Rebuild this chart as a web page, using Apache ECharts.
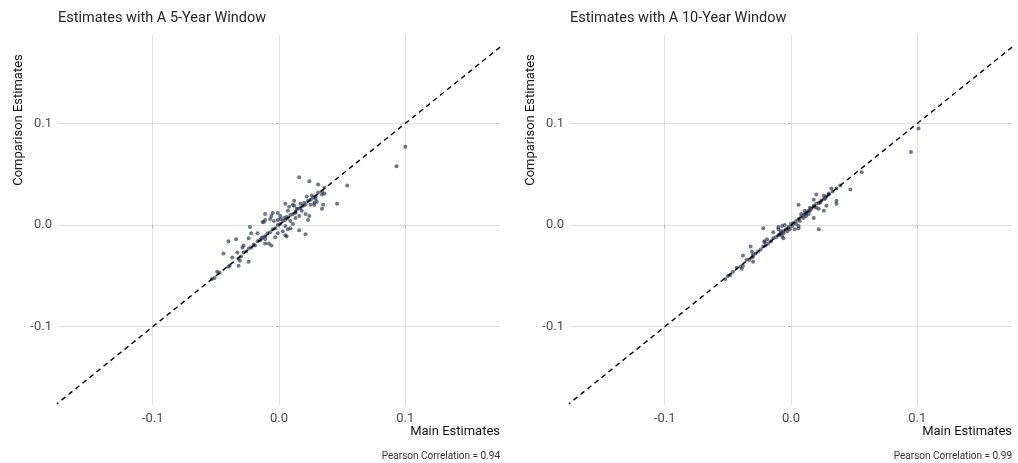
<!DOCTYPE html>
<html>
<head>
<meta charset="utf-8">
<script src="https://cdn.jsdelivr.net/npm/echarts@6/dist/echarts.min.js"></script>
<style>
  html, body { margin: 0; padding: 0; background: #ffffff; }
  #chart { width: 1018px; height: 463px; }
</style>
</head>
<body>
<div id="chart"></div>
<script>
// Panel texts
const panelTitles = ['Estimates with A 5-Year Window', 'Estimates with A 10-Year Window'];
const xAxisTitle = 'Main Estimates';
const yAxisTitle = 'Comparison Estimates';
const correlationNotes = ['Pearson Correlation = 0.94', 'Pearson Correlation = 0.99'];

// Axis breaks
const tickValues = [-0.1, 0, 0.1];
const tickLabels = ['-0.1', '0.0', '0.1'];

// 5-year window: main estimate (x) vs comparison estimate (y)
const main5 = [
  0.100, 0.093, 0.054, 0.016, 0.024, 0.031, 0.036, 0.046, 0.035, 0.034,
  0.028, 0.005, 0.007, -0.005, -0.012, -0.023, -0.022, 0.016, 0.021, 0.023,
  -0.040, -0.034, -0.024, -0.029, -0.044, -0.033, -0.037, -0.032, -0.032, -0.024,
  -0.040, -0.049, -0.053, -0.003, 0.005, -0.011, -0.013, -0.011, -0.007, -0.004,
  -0.001, 0.001, 0.004, 0.006, 0.009, 0.012, 0.014, 0.018, 0.021, 0.016,
  0.013, 0.011, 0.009, 0.007, 0.005, 0.003, -0.001, 0.022, 0.026, 0.028,
  0.025, 0.020, 0.017, 0.013, 0.024, -0.011, -0.006, -0.028, -0.031, -0.039,
  -0.047, -0.051, -0.006, 0.029, 0.030, 0.034, 0.008, 0.011, 0.012, -0.001,
  0.001, 0.006, -0.008, -0.011, -0.014, -0.017,
  -0.030, -0.028, -0.026, -0.024, -0.022, -0.020, -0.019, -0.017, -0.015, -0.013,
  -0.011, -0.009, -0.007, -0.005, -0.003, -0.001, 0.001, 0.003, 0.005, 0.007,
  0.009, 0.011, 0.013, 0.015, 0.017, 0.019, 0.021, 0.023, 0.025, 0.027,
  0.029, 0.031, 0.034, 0.036
];
const comp5 = [
  0.077, 0.058, 0.039, 0.047, 0.043, 0.040, 0.031, 0.021, 0.020, 0.016,
  0.020, 0.021, 0.014, 0.012, 0.003, -0.002, -0.008, -0.005, -0.009, 0.005,
  -0.016, -0.014, -0.013, -0.022, -0.028, -0.027, -0.032, -0.033, -0.040, -0.036,
  -0.041, -0.046, -0.053, -0.012, -0.010, -0.018, 0.003, 0.005, 0.006, 0.004,
  0.005, 0.006, 0.007, 0.008, 0.004, 0.019, 0.016, 0.014, 0.011, 0.009,
  0.007, 0.001, -0.003, -0.004, -0.001, -0.006, -0.008, 0.028, 0.029, 0.022,
  0.020, 0.022, 0.021, 0.012, 0.009, 0.011, 0.009, -0.020, -0.035, -0.040,
  -0.047, -0.052, -0.020, 0.026, 0.023, 0.030, 0.018, 0.020, 0.024, 0.012,
  0.009, -0.011, -0.018, -0.014, -0.013, -0.008,
  -0.031, -0.027, -0.026, -0.023, -0.022, -0.019, -0.020, -0.016, -0.015, -0.012,
  -0.011, -0.008, -0.007, -0.004, -0.003, 0.000, 0.001, 0.004, 0.005, 0.007,
  0.010, 0.011, 0.013, 0.016, 0.017, 0.019, 0.020, 0.024, 0.025, 0.027,
  0.028, 0.032, 0.033, 0.037
];

// 10-year window: main estimate (x) vs comparison estimate (y)
const main10 = [
  0.101, 0.095, 0.056, 0.047, 0.032, 0.036, 0.036, 0.026, 0.027, 0.018,
  0.006, 0.015, 0.018, 0.020, 0.022, 0.026, 0.018, 0.012, 0.014, 0.011,
  0.010, 0.007, 0.006, 0.004, 0.022, -0.022, -0.014, -0.010, -0.008, -0.006,
  -0.003, -0.001, -0.002, 0.001, -0.009, -0.007, -0.006, -0.021, -0.019, -0.032,
  -0.038, -0.031, -0.030, -0.033, -0.043, -0.039, -0.046, -0.050, -0.052, -0.021,
  -0.035, -0.031, -0.030, -0.040, -0.038, -0.048, 0.006, 0.003, 0.020, 0.023,
  0.030, 0.015, 0.011, 0.008, 0.028, -0.010, -0.007, -0.005,
  -0.030, -0.028, -0.026, -0.024, -0.022, -0.020, -0.018, -0.016, -0.014, -0.012,
  -0.010, -0.008, -0.006, -0.004, -0.002, 0.000, 0.002, 0.004, 0.006, 0.008,
  0.010, 0.012, 0.014, 0.016, 0.018, 0.020, 0.022, 0.024, 0.026, 0.028,
  0.030, 0.033, 0.036, 0.039
];
const comp10 = [
  0.095, 0.072, 0.052, 0.035, 0.036, 0.024, 0.021, 0.029, 0.026, 0.025,
  0.020, 0.017, 0.019, 0.017, 0.016, 0.014, 0.007, 0.009, 0.011, 0.011,
  0.007, 0.004, -0.001, 0.001, -0.004, -0.003, -0.007, -0.004, -0.006, -0.008,
  -0.006, -0.004, -0.003, -0.001, -0.009, -0.011, -0.013, -0.016, -0.014, -0.021,
  -0.030, -0.026, -0.031, -0.034, -0.042, -0.043, -0.046, -0.050, -0.053, -0.017,
  -0.034, -0.032, -0.036, -0.041, -0.040, -0.049, -0.003, -0.004, 0.030, 0.022,
  0.030, 0.014, 0.014, 0.011, 0.019, -0.002, -0.001, 0.000,
  -0.029, -0.028, -0.026, -0.024, -0.021, -0.020, -0.018, -0.016, -0.013, -0.012,
  -0.010, -0.008, -0.006, -0.004, -0.002, 0.001, 0.002, 0.004, 0.006, 0.008,
  0.010, 0.012, 0.014, 0.016, 0.018, 0.021, 0.022, 0.024, 0.026, 0.028,
  0.031, 0.033, 0.036, 0.039
];

// 45-degree reference line (y = x), clipped to each panel
const identityLine = [[-0.2, -0.2], [0.2, 0.2]];

const panels = [
  { main: main5, comp: comp5 },
  { main: main10, comp: comp10 }
];

const FONT = 'Roboto, "Noto Sans", sans-serif';
const gridLefts = [58, 570];
const gridWidth = 442;

function fmtTick(v) {
  const i = tickValues.findIndex(t => Math.abs(t - v) < 1e-9);
  return i >= 0 ? tickLabels[i] : '';
}

const grids = [], xAxes = [], yAxes = [], series = [], titles = [], graphics = [];

panels.forEach((p, i) => {
  const left = gridLefts[i];
  grids.push({ left: left, width: gridWidth, top: 35, height: 370, containLabel: false });

  // Ticks, labels and grid lines all sit on the break values only.
  const common = {
    type: 'value',
    gridIndex: i,
    interval: 0.1,
    axisLine: { show: false },
    axisTick: { show: true, customValues: tickValues, length: 3, lineStyle: { color: '#b8b8b8', width: 1 } },
    axisLabel: { customValues: tickValues, formatter: fmtTick, color: '#4d4d4d', fontSize: 13, fontFamily: FONT },
    splitLine: { show: true, lineStyle: { color: '#e0e0e0', width: 1 } }
  };
  xAxes.push(Object.assign({}, common, {
    min: -0.175, max: 0.175,
    axisLabel: Object.assign({}, common.axisLabel, { margin: 7 })
  }));
  yAxes.push(Object.assign({}, common, {
    min: -0.177, max: 0.187,
    axisLabel: Object.assign({}, common.axisLabel, { margin: 6 })
  }));

  series.push({
    type: 'scatter',
    xAxisIndex: i, yAxisIndex: i,
    data: p.main.map((x, k) => [x, p.comp[k]]),
    symbolSize: 4,
    itemStyle: { color: 'rgba(30, 40, 72, 0.8)' },
    silent: true,
    z: 2
  });
  series.push({
    type: 'line',
    xAxisIndex: i, yAxisIndex: i,
    data: identityLine,
    symbol: 'none',
    clip: true,
    lineStyle: { color: '#000000', width: 1.4, type: [5, 4] },
    silent: true,
    z: 3
  });

  titles.push({
    text: panelTitles[i],
    left: left, top: 11, padding: 0,
    textStyle: { fontSize: 14.5, fontWeight: 'normal', color: '#262626', fontFamily: FONT }
  });

  graphics.push({
    type: 'text',
    x: left - 39, y: 120,
    rotation: Math.PI / 2,
    style: { text: yAxisTitle, fill: '#111111', fontSize: 13, fontFamily: FONT, align: 'center', verticalAlign: 'middle' }
  });
  graphics.push({
    type: 'text',
    x: left + gridWidth, y: 432,
    style: { text: xAxisTitle, fill: '#111111', fontSize: 13, fontFamily: FONT, align: 'right', verticalAlign: 'middle' }
  });
  graphics.push({
    type: 'text',
    x: left + gridWidth, y: 456,
    style: { text: correlationNotes[i], fill: '#333333', fontSize: 10, fontFamily: FONT, align: 'right', verticalAlign: 'middle' }
  });
});

const chart = echarts.init(document.getElementById('chart'), null, { renderer: 'canvas' });
chart.setOption({
  animation: false,
  backgroundColor: '#ffffff',
  title: titles,
  grid: grids,
  xAxis: xAxes,
  yAxis: yAxes,
  series: series,
  graphic: graphics
});
</script>
</body>
</html>
